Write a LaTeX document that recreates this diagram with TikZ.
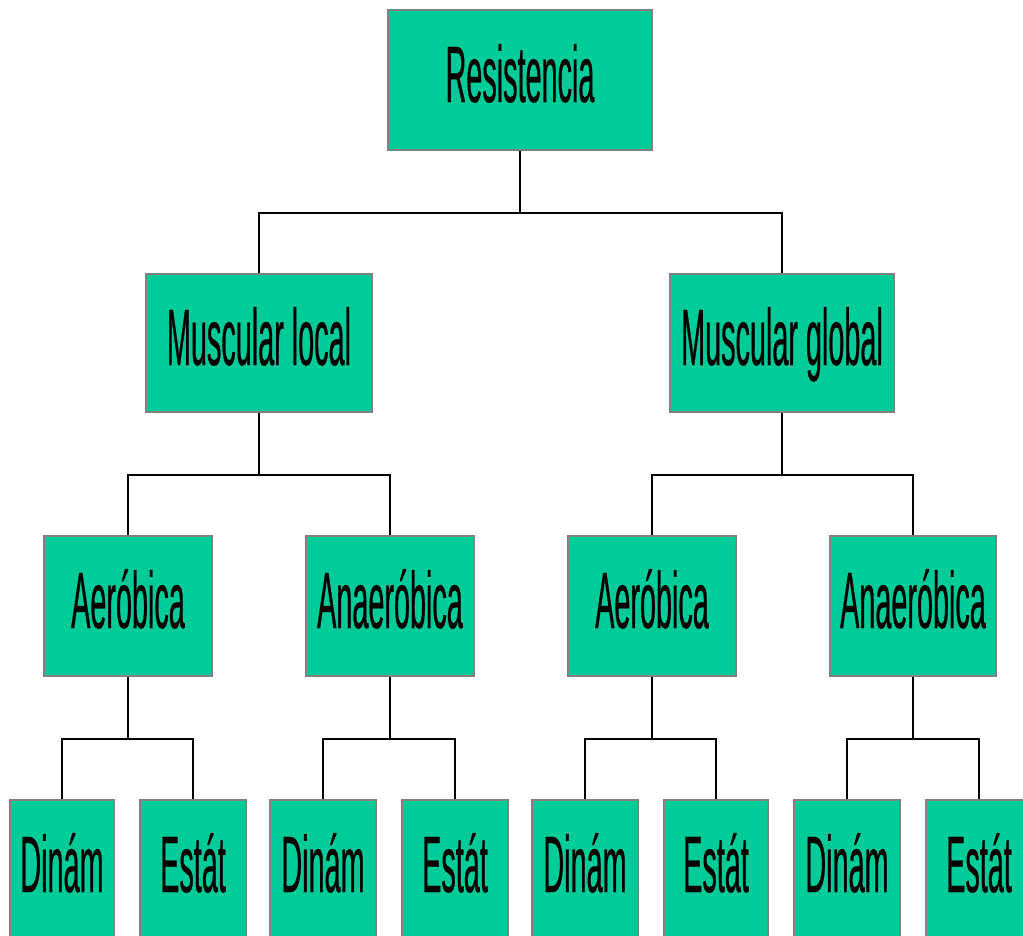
\documentclass[tikz,border=0pt]{standalone}
\usepackage{fontspec}
\newfontfamily\narrowfont[FakeStretch=0.36,FakeBold=0.35]{Liberation Sans}
\definecolor{boxfill}{RGB}{0,204,153}
\definecolor{boxline}{RGB}{128,128,128}
\tikzset{
  box/.style={draw=boxline, line width=1.5pt, fill=boxfill, inner sep=0pt,
    font=\narrowfont\fontsize{80}{86}\selectfont, text height=44pt, text depth=0pt},
  link/.style={draw=black, line width=1.5pt}
}
\begin{document}
\begin{tikzpicture}[x=1pt,y=-1pt]
\useasboundingbox (0,0) rectangle (1023,935);
\clip (0,0) rectangle (1023,935);
\fill[white] (0,0) rectangle (1023,935);
% level 1
\node[box, minimum width=264pt, minimum height=140pt] (r) at (520,80) {Resistencia};
% level 2
\node[box, minimum width=226pt, minimum height=138pt] (ml) at (259,343) {Muscular local};
\node[box, minimum width=224pt, minimum height=138pt] (mg) at (782,343) {Muscular global};
% level 3
\node[box, minimum width=168pt, minimum height=140pt] (a1) at (128,606) {Aeróbica};
\node[box, minimum width=168pt, minimum height=140pt] (n1) at (390,606) {Anaeróbica};
\node[box, minimum width=168pt, minimum height=140pt] (a2) at (652,606) {Aeróbica};
\node[box, minimum width=166pt, minimum height=140pt] (n2) at (913,606) {Anaeróbica};
% level 4
\node[box, minimum width=104pt, minimum height=140pt] (d1) at (62,870) {Dinám};
\node[box, minimum width=106pt, minimum height=140pt] (e1) at (193,870) {Estát};
\node[box, minimum width=106pt, minimum height=140pt] (d2) at (323,870) {Dinám};
\node[box, minimum width=106pt, minimum height=140pt] (e2) at (455,870) {Estát};
\node[box, minimum width=106pt, minimum height=140pt] (d3) at (585,870) {Dinám};
\node[box, minimum width=104pt, minimum height=140pt] (e3) at (716,870) {Estát};
\node[box, minimum width=106pt, minimum height=140pt] (d4) at (847,870) {Dinám};
\node[box, minimum width=106pt, minimum height=140pt] (e4) at (979,870) {Estát};
% connectors
\draw[link] (r.south) -- ++(0,62) coordinate (j0) -| (ml.north);
\draw[link] (j0) -| (mg.north);
\draw[link] (ml.south) -- ++(0,62) coordinate (j1) -| (a1.north);
\draw[link] (j1) -| (n1.north);
\draw[link] (mg.south) -- ++(0,62) coordinate (j2) -| (a2.north);
\draw[link] (j2) -| (n2.north);
\draw[link] (a1.south) -- ++(0,62) coordinate (j3) -| (d1.north);
\draw[link] (j3) -| (e1.north);
\draw[link] (n1.south) -- ++(0,62) coordinate (j4) -| (d2.north);
\draw[link] (j4) -| (e2.north);
\draw[link] (a2.south) -- ++(0,62) coordinate (j5) -| (d3.north);
\draw[link] (j5) -| (e3.north);
\draw[link] (n2.south) -- ++(0,62) coordinate (j6) -| (d4.north);
\draw[link] (j6) -| (e4.north);
\end{tikzpicture}
\end{document}
